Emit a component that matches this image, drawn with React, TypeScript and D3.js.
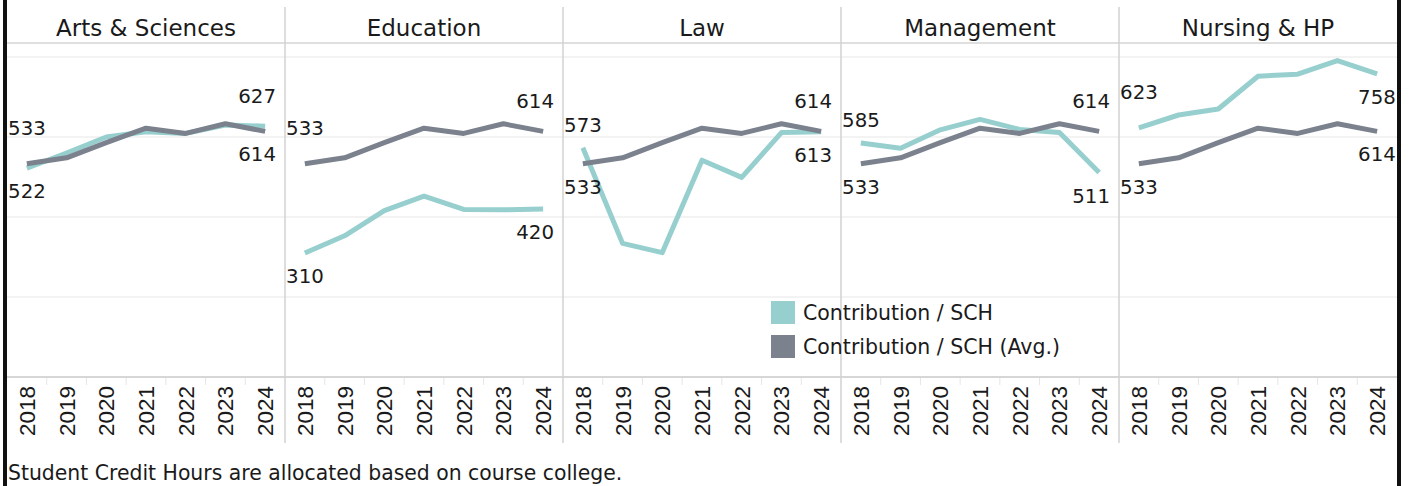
import React from 'react';
import * as d3 from 'd3';

const years = ['2018', '2019', '2020', '2021', '2022', '2023', '2024'];
const colleges = ['Arts & Sciences', 'Education', 'Law', 'Management', 'Nursing & HP'];

// average contribution per SCH, same line in every panel
const avgValues = [533, 548, 586, 622, 609, 633, 614];
const artsValues = [522, 560, 600, 613, 609, 630, 627];
const educationValues = [310, 353, 416, 452, 419, 418, 420];
const lawValues = [573, 334, 311, 542, 499, 611, 613];
const managementValues = [585, 572, 618, 644, 619, 611, 511];
const nursingValues = [623, 655, 670, 752, 757, 791, 758];
const collegeValues = [artsValues, educationValues, lawValues, managementValues, nursingValues];

const yTicks = [200, 400, 600, 800];
const legendLabels = ['Contribution / SCH', 'Contribution / SCH (Avg.)'];
const footnote = 'Student Credit Hours are allocated based on course college.';

// panels where both end labels sit under their lines
const endLabelsBelow = ['Nursing & HP'];

const TEAL = '#97cfcf';
const GRAY = '#7b828e';
const FONT = '"DejaVu Sans", sans-serif';

const W = 1410;
const H = 486;
const left = 7;
const right = 1397;
const headerTop = 7;
const headerBottom = 43;
const axisY = 377;
const axisBottom = 443;

export default function App() {
  const panel = d3.scaleBand().domain(colleges).range([left, right]);
  const y = d3.scaleLinear().domain([0, 800]).range([axisY, 57]);

  const labelText = (x: number, yy: number, v: number, pLeft: number, pRight: number, key: string) => {
    const w = 38;
    const cx = Math.max(pLeft + 1 + w / 2, Math.min(pRight - 1 - w / 2, x));
    return (
      <text key={key} x={cx} y={yy} textAnchor="middle" fontFamily={FONT} fontSize={19.8} fill="#1a1a1a">
        {v}
      </text>
    );
  };

  return (
    <svg width={W} height={H} style={{ position: 'absolute', left: 0, top: 0, background: '#fff' }}>
      {/* header line and grid */}
      <line x1={left} x2={right} y1={headerBottom} y2={headerBottom} stroke="#d4d4d4" strokeWidth={1.5} />
      {yTicks.map(t => (
        <line key={t} x1={left} x2={right} y1={y(t)} y2={y(t)} stroke="#efefef" strokeWidth={1.5} />
      ))}
      <line x1={left} x2={right} y1={axisY} y2={axisY} stroke="#d6d6d6" strokeWidth={2} />

      {colleges.map((c, i) => {
        const pLeft = panel(c)!;
        const pRight = pLeft + panel.bandwidth();
        const x = d3.scaleBand().domain(years).range([pLeft, pRight]);
        const px = (yr: string) => x(yr)! + x.bandwidth() / 2;
        const vals = collegeValues[i];
        const line = d3.line<number>().x((_, j) => px(years[j])).y(v => y(v));

        const first = 0;
        const last = years.length - 1;
        const startHigh = vals[first] >= avgValues[first];
        const endHigh = vals[last] >= avgValues[last];
        const bothBelow = endLabelsBelow.includes(c);

        // start label above the line: closer when the line falls away from it
        const startOff = (series: number[], above: boolean) =>
          !above ? 30 : series[1] < series[0] ? -16 : -29;
        const endOff = (above: boolean) => (above ? -23 : 30);
        const sx = px(years[first]);
        const ex = px(years[last]) - (bothBelow ? 0 : 8);

        return (
          <g key={c}>
            <text x={(pLeft + pRight) / 2} y={36} textAnchor="middle" fontFamily={FONT} fontSize={23} fill="#1a1a1a">
              {c}
            </text>
            {years.slice(1).map(yr => (
              <line key={yr} x1={x(yr)} x2={x(yr)} y1={axisY + 1} y2={axisY + 8} stroke="#e6e6e6" strokeWidth={1} />
            ))}
            {years.map(yr => (
              <text
                key={yr}
                transform={`translate(${px(yr) + 8},386) rotate(-90)`}
                textAnchor="end"
                fontFamily='"Liberation Sans", Arial, sans-serif'
                fontSize={22.5}
                fill="#1a1a1a"
              >
                {yr}
              </text>
            ))}
            <path d={line(vals)!} fill="none" stroke={TEAL} strokeWidth={5} strokeLinejoin="round" />
            <path d={line(avgValues)!} fill="none" stroke={GRAY} strokeWidth={5} strokeLinejoin="round" />

            {labelText(sx, y(vals[first]) + startOff(vals, startHigh), vals[first], pLeft, pRight, 's1')}
            {labelText(sx, y(avgValues[first]) + startOff(avgValues, !startHigh), avgValues[first], pLeft, pRight, 's2')}
            {labelText(ex, y(vals[last]) + endOff(endHigh && !bothBelow), vals[last], pLeft, pRight, 'e1')}
            {labelText(ex, y(avgValues[last]) + endOff(!endHigh && !bothBelow), avgValues[last], pLeft, pRight, 'e2')}
          </g>
        );
      })}

      {/* column separators */}
      {colleges.slice(1).map(c => (
        <line key={c} x1={panel(c)} x2={panel(c)} y1={headerTop} y2={axisBottom} stroke="#d2d2d2" strokeWidth={1.5} />
      ))}

      {/* legend */}
      {legendLabels.map((l, i) => (
        <g key={l} transform={`translate(771,${301 + i * 34})`}>
          <rect width={24} height={23} fill={i === 0 ? TEAL : GRAY} />
          <text x={32} y={18.5} fontFamily={FONT} fontSize={20.5} fill="#1a1a1a">
            {l}
          </text>
        </g>
      ))}

      <text x={8} y={480} fontFamily={FONT} fontSize={20.4} fill="#1a1a1a">
        {footnote}
      </text>

      {/* outer borders */}
      <rect x={3} y={0} width={4} height={H} fill="#111" />
      <rect x={1397} y={0} width={4} height={H} fill="#111" />
    </svg>
  );
}
